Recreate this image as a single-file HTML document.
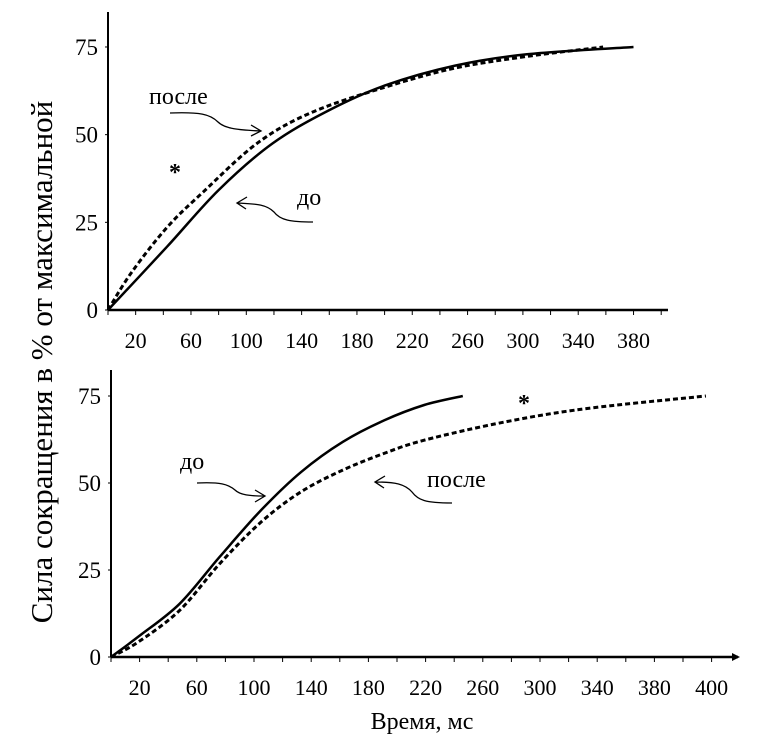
<!DOCTYPE html>
<html><head><meta charset="utf-8"><style>
html,body{margin:0;padding:0;background:#fff;}
svg{display:block;font-family:"Liberation Serif","DejaVu Serif",serif;}
</style></head><body>
<svg id="chart" width="757" height="745" viewBox="0 0 757 745" xmlns="http://www.w3.org/2000/svg">
<text transform="translate(52,362) rotate(-90)" text-anchor="middle" font-size="31">Сила сокращения в % от максимальной</text>
<text x="422" y="729" text-anchor="middle" font-size="24">Время, мс</text>
<g id="top"></g>
<g id="bot"></g>
<text x="149" y="104" font-size="24">после</text>
<path d="M170,113 C200,112 210,114 218,122 C225,129 240,130 260,131 M251,125 L261,131 L251,136" fill="none" stroke="#000" stroke-width="1.3"/>
<text x="169" y="180" font-size="24" font-weight="bold">*</text>
<text x="297" y="205" font-size="24">до</text>
<path d="M313,222 C290,222 280,220 274,212 C266,204 255,204 238,203 M247,197 L237,203 L246,209" fill="none" stroke="#000" stroke-width="1.3"/>
<text x="180" y="469" font-size="24">до</text>
<path d="M197,483 C220,482 228,484 235,490 C240,495 250,496 264,496 M255,490 L265,496 L255,502" fill="none" stroke="#000" stroke-width="1.3"/>
<text x="427" y="487" font-size="24">после</text>
<path d="M452,503 C425,503 418,500 412,492 C405,484 395,482 376,482 M385,476 L375,482 L384,488" fill="none" stroke="#000" stroke-width="1.3"/>
<text x="518" y="411" font-size="24" font-weight="bold">*</text>
</svg>
<script>
const topX_before = [0, 43, 80, 119, 160, 200, 251, 303, 380];
const topY_before = [0, 18.2, 34.2, 47.5, 57, 64, 69.7, 72.9, 75];
const topX_after = [0, 17, 43, 69, 108, 147, 200, 251, 303, 358];
const topY_after = [0, 10.7, 23.7, 33.7, 47.6, 56.3, 63.5, 69, 72.3, 75];
const topTickValues = [20, 60, 100, 140, 180, 220, 260, 300, 340, 380];
const topTickLabels = ['20', '60', '100', '140', '180', '220', '260', '300', '340', '380'];
const botX_before = [0, 19, 48, 76, 105, 133, 162, 191, 219, 246];
const botY_before = [0, 5.8, 15.3, 28.8, 42.2, 53.2, 61.8, 68, 72.4, 75];
const botX_after = [0, 19, 48, 76, 105, 133, 162, 191, 219, 276, 333, 416];
const botY_after = [0, 4.3, 13.4, 26.8, 38.8, 47.5, 53.7, 58.5, 62.3, 67.6, 71.4, 75];
const botTickValues = [20, 60, 100, 140, 180, 220, 260, 300, 340, 380, 420];
const botTickLabels = ['20', '60', '100', '140', '180', '220', '260', '300', '340', '380', '400'];
const yTickValues = [0, 25, 50, 75];
const yTickLabels = ['0', '25', '50', '75'];
const NS = 'http://www.w3.org/2000/svg';
function mk(tag, attrs, parent){const e=document.createElementNS(NS,tag);for(const k in attrs)e.setAttribute(k,attrs[k]);parent.appendChild(e);return e;}
function smooth(pts){let d='M'+pts[0][0]+','+pts[0][1];for(let i=0;i<pts.length-1;i++){const p0=pts[Math.max(0,i-1)],p1=pts[i],p2=pts[i+1],p3=pts[Math.min(pts.length-1,i+2)];const c1x=p1[0]+(p2[0]-p0[0])/6,c1y=p1[1]+(p2[1]-p0[1])/6,c2x=p2[0]-(p3[0]-p1[0])/6,c2y=p2[1]-(p3[1]-p1[1])/6;d+=' C'+c1x.toFixed(1)+','+c1y.toFixed(1)+' '+c2x.toFixed(1)+','+c2y.toFixed(1)+' '+p2[0].toFixed(1)+','+p2[1].toFixed(1);}return d;}
function panel(g, ox, oy, xs, ys, axEnd, yTop, maxTick, tickVals, tickLabs, xb, yb, xa, ya, prefix, arrow){
  const sx=v=>ox+v*xs, sy=v=>oy-v*ys;
  let e=mk('line',{x1:ox,y1:oy,x2:axEnd,y2:oy,stroke:'#000','stroke-width':2.5},g);
  
  
  e=mk('line',{x1:ox,y1:oy,x2:ox,y2:yTop,stroke:'#000','stroke-width':2},g);
  
  
  if(arrow){e=mk('path',{d:`M${axEnd-6},${oy-4} L${axEnd+2},${oy} L${axEnd-6},${oy+4}Z`,fill:'#000'},g);
    
    }
  for(let v=0; v<=maxTick; v+=20){e=mk('line',{x1:sx(v),y1:oy,x2:sx(v),y2:oy+5,stroke:'#000','stroke-width':1},g);
    
    }
  tickVals.forEach((v,i)=>{e=mk('text',{x:sx(v),y:oy+38,'text-anchor':'middle','font-size':22},g);e.textContent=tickLabs[i];
    
    });
  yTickValues.forEach((v,i)=>{e=mk('text',{x:ox-10,y:sy(v)+8,'text-anchor':'end','font-size':23},g);e.textContent=yTickLabels[i];
    
    
    e=mk('line',{x1:ox-3,y1:sy(v),x2:ox,y2:sy(v),stroke:'#000','stroke-width':1},g);
    
    });
  e=mk('path',{d:smooth(xa.map((v,i)=>[sx(v),sy(ya[i])])),fill:'none',stroke:'#000','stroke-width':3,'stroke-dasharray':'5,3'},g);
  
  
  e=mk('path',{d:smooth(xb.map((v,i)=>[sx(v),sy(yb[i])])),fill:'none',stroke:'#000','stroke-width':2.5},g);
  
  
}
panel(document.getElementById('top'),108,310,1.383,3.507,668,12,400,topTickValues,topTickLabels,topX_before,topY_before,topX_after,topY_after,'top',false);
panel(document.getElementById('bot'),111,657,1.43,3.48,738,370,420,botTickValues,botTickLabels,botX_before,botY_before,botX_after,botY_after,'bottom',true);
</script>
</body></html>
